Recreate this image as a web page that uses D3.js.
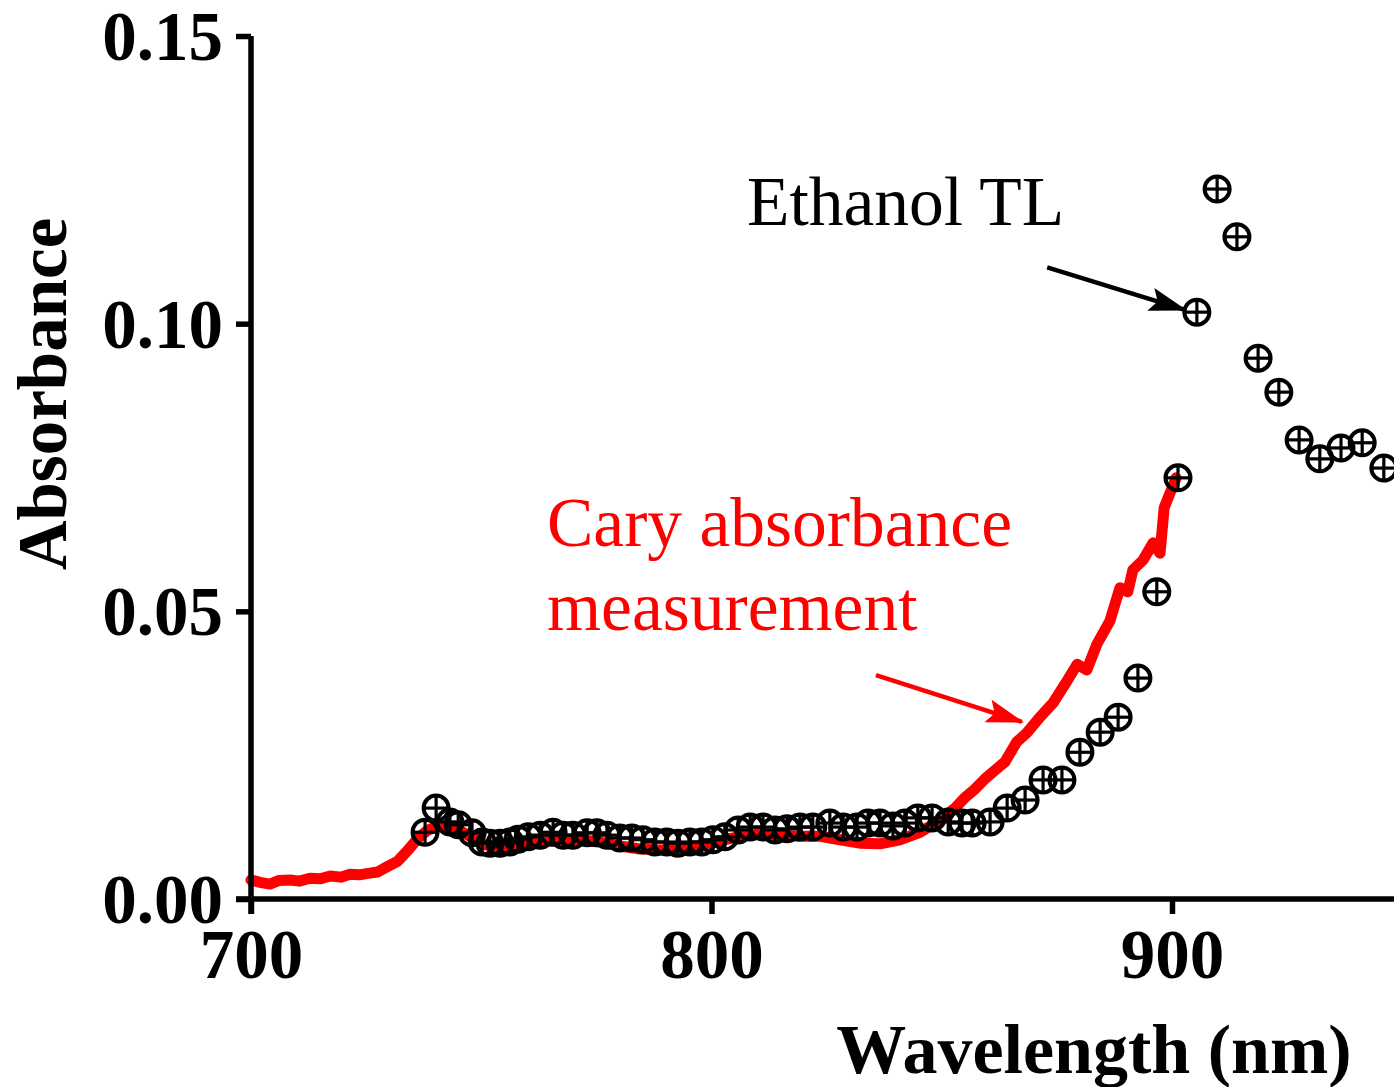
<!DOCTYPE html>
<html>
<head>
<meta charset="utf-8">
<script src="https://cdn.jsdelivr.net/npm/d3@7"></script>
<style>
  html, body { margin: 0; padding: 0; background: #fff; }
  svg { display: block; }
</style>
</head>
<body>
<svg id="chart" width="1394" height="1087"></svg>
<script>
// ---------- data ----------
const xTicks = [700, 800, 900];
const yTicks = [0, 0.05, 0.10, 0.15];

// Cary absorbance measurement (red line)
const caryWavelength = [700.0, 702.0, 704.1, 706.0, 708.5, 710.5, 712.8, 715.0, 717.2, 719.5, 721.5, 723.5, 725.8, 727.5, 729.1, 731.9, 734.1, 736.3, 738.4, 741.0, 744.3, 747.6, 750.8, 754.1, 758.4, 762.8, 767.1, 771.4, 775.8, 780.1, 784.5, 788.8, 793.2, 797.5, 801.8, 806.2, 810.5, 814.9, 819.2, 823.6, 827.9, 832.2, 836.6, 840.9, 845.3, 849.6, 852.9, 855.0, 857.2, 859.4, 861.6, 863.7, 866.3, 868.5, 871.3, 874.2, 877.2, 879.4, 881.5, 883.7, 886.5, 888.7, 890.4, 891.5, 893.7, 895.9, 897.4, 898.3, 899.6, 900.9];
const caryAbsorbance = [0.0033, 0.0029, 0.0026, 0.0032, 0.0033, 0.0031, 0.0036, 0.0035, 0.0040, 0.0038, 0.0043, 0.0042, 0.0045, 0.0047, 0.0054, 0.0066, 0.0085, 0.0106, 0.0120, 0.0127, 0.0123, 0.0109, 0.0094, 0.0090, 0.0094, 0.0099, 0.0103, 0.0103, 0.0099, 0.0092, 0.0087, 0.0085, 0.0089, 0.0092, 0.0101, 0.0109, 0.0113, 0.0111, 0.0109, 0.0109, 0.0103, 0.0097, 0.0096, 0.0103, 0.0116, 0.0137, 0.0158, 0.0176, 0.0191, 0.0209, 0.0224, 0.0238, 0.0273, 0.0289, 0.0316, 0.0341, 0.0379, 0.0408, 0.0398, 0.0443, 0.0483, 0.0541, 0.0534, 0.0572, 0.0589, 0.0619, 0.0601, 0.0680, 0.0706, 0.0732];

// Ethanol TL (circle-plus markers)
const tlWavelength = [737.8, 740.2, 743.2, 745.0, 748.0, 750.2, 751.9, 754.1, 756.2, 758.0, 760.2, 762.8, 765.6, 767.8, 769.9, 773.0, 775.1, 777.3, 780.1, 782.7, 785.1, 787.7, 790.3, 792.7, 795.3, 797.9, 800.3, 802.9, 805.8, 808.4, 811.2, 813.8, 816.4, 819.2, 822.0, 825.7, 828.6, 831.6, 834.0, 836.6, 839.4, 842.0, 844.8, 847.9, 851.4, 854.4, 856.6, 860.5, 864.2, 868.1, 872.0, 876.1, 880.0, 884.4, 888.3, 892.6, 896.7, 901.3, 905.4, 909.8, 914.1, 918.7, 923.2, 927.6, 932.1, 936.7, 941.3, 946.0];
const tlAbsorbance = [0.0116, 0.0158, 0.0134, 0.0129, 0.0115, 0.0099, 0.0097, 0.0097, 0.0099, 0.0104, 0.0108, 0.0111, 0.0116, 0.0111, 0.0111, 0.0115, 0.0115, 0.0111, 0.0106, 0.0106, 0.0103, 0.0099, 0.0099, 0.0097, 0.0099, 0.0099, 0.0103, 0.0108, 0.0120, 0.0125, 0.0125, 0.0120, 0.0122, 0.0125, 0.0125, 0.0132, 0.0125, 0.0125, 0.0132, 0.0132, 0.0127, 0.0132, 0.0141, 0.0141, 0.0134, 0.0132, 0.0132, 0.0134, 0.0158, 0.0172, 0.0207, 0.0207, 0.0255, 0.0290, 0.0316, 0.0384, 0.0534, 0.0732, 0.1020, 0.1234, 0.1151, 0.0940, 0.0881, 0.0798, 0.0765, 0.0784, 0.0793, 0.0749];

// annotations (data coordinates)
const tlArrow = { from: [872.9, 0.1098], to: [902.8, 0.1024] };
const caryArrow = { from: [835.7, 0.0389], to: [867.4, 0.0308] };

// ---------- chart ----------
const svg = d3.select("#chart");
const FONT = "'Liberation Serif', 'Times New Roman', Times, serif";

const x = d3.scaleLinear().domain([700, 950]).range([251, 251 + 250 * 4.605]);
const y = d3.scaleLinear().domain([0, 0.15]).range([899, 36]);

const defs = svg.append("defs");
function marker(id, color) {
  defs.append("marker")
    .attr("id", id)
    .attr("viewBox", "0 0 16 10")
    .attr("refX", 15).attr("refY", 5)
    .attr("markerUnits", "userSpaceOnUse")
    .attr("markerWidth", 38).attr("markerHeight", 24)
    .attr("orient", "auto")
    .append("path").attr("d", "M0,0 L16,5 L0,10 L3,5 Z").attr("fill", color);
}
marker("ah-black", "#000");
marker("ah-red", "#ff0000");

// red line
const cary = caryWavelength.map((w, i) => [w, caryAbsorbance[i]]);
svg.append("path")
  .datum(cary)
  .attr("fill", "none")
  .attr("stroke", "#ff0000")
  .attr("stroke-width", 11)
  .attr("stroke-linejoin", "round")
  .attr("stroke-linecap", "round")
  .attr("d", d3.line().x(d => x(d[0])).y(d => y(d[1])));

// TL markers
const tl = tlWavelength.map((w, i) => [w, tlAbsorbance[i]]);
const r = 12.5;
const g = svg.append("g").attr("stroke", "#000").attr("stroke-width", 4).attr("fill", "none");
const mk = g.selectAll("g.mk").data(tl).join("g")
  .attr("class", "mk")
  .attr("transform", d => `translate(${x(d[0])},${y(d[1])})`);
mk.append("circle").attr("r", r);
mk.append("line").attr("x1", -r).attr("x2", r).attr("y1", 0).attr("y2", 0).attr("stroke-width", 3.2);
mk.append("line").attr("y1", -r).attr("y2", r).attr("x1", 0).attr("x2", 0).attr("stroke-width", 3.2);

// axes
const xAxis = d3.axisBottom(x).tickValues(xTicks).tickSize(15).tickSizeOuter(0).tickFormat(d3.format("d"));
const yAxis = d3.axisLeft(y).tickValues(yTicks).tickSize(15).tickSizeOuter(0).tickFormat(d3.format(".2f"));

const gx = svg.append("g").attr("transform", `translate(0,${y(0)})`).call(xAxis);
const gy = svg.append("g").attr("transform", `translate(${x(700)},0)`).call(yAxis);

[gx, gy].forEach(a => {
  a.select(".domain").attr("stroke", "#000").attr("stroke-width", 5.5);
  a.selectAll(".tick line").attr("stroke", "#000").attr("stroke-width", 5.5);
  a.selectAll(".tick text")
    .attr("fill", "#000")
    .style("font-family", FONT)
    .style("font-weight", "bold")
    .style("font-size", "69px");
});
gx.select(".domain").attr("d", `M${x(700) - 15},0H${x(950)}`);
gy.select(".domain").attr("d", `M0,${y(0.15)}V${y(0) + 15}`);
gx.selectAll(".tick text").attr("y", 30).attr("dy", "0.71em");
gy.selectAll(".tick text").attr("x", -28).attr("dy", "0.34em");

// axis titles
svg.append("text")
  .attr("x", 1094).attr("y", 1073)
  .attr("text-anchor", "middle")
  .style("font-family", FONT).style("font-weight", "bold").style("font-size", "70px")
  .text("Wavelength (nm)");

svg.append("text")
  .attr("transform", "translate(66,394) rotate(-90)")
  .attr("text-anchor", "middle")
  .style("font-family", FONT).style("font-weight", "bold").style("font-size", "69px")
  .text("Absorbance");

// annotations
svg.append("text")
  .attr("x", 747).attr("y", 225)
  .style("font-family", FONT).style("font-size", "69.5px").attr("fill", "#000")
  .text("Ethanol TL");

svg.append("text")
  .attr("x", 547).attr("y", 546)
  .style("font-family", FONT).style("font-size", "69.5px").attr("fill", "#ff0000")
  .text("Cary absorbance");
svg.append("text")
  .attr("x", 547).attr("y", 630)
  .style("font-family", FONT).style("font-size", "69.5px").attr("fill", "#ff0000")
  .text("measurement");

svg.append("line")
  .attr("x1", x(tlArrow.from[0])).attr("y1", y(tlArrow.from[1]))
  .attr("x2", x(tlArrow.to[0])).attr("y2", y(tlArrow.to[1]))
  .attr("stroke", "#000").attr("stroke-width", 4.5)
  .attr("marker-end", "url(#ah-black)");

svg.append("line")
  .attr("x1", x(caryArrow.from[0])).attr("y1", y(caryArrow.from[1]))
  .attr("x2", x(caryArrow.to[0])).attr("y2", y(caryArrow.to[1]))
  .attr("stroke", "#ff0000").attr("stroke-width", 4.5)
  .attr("marker-end", "url(#ah-red)");
</script>
</body>
</html>
